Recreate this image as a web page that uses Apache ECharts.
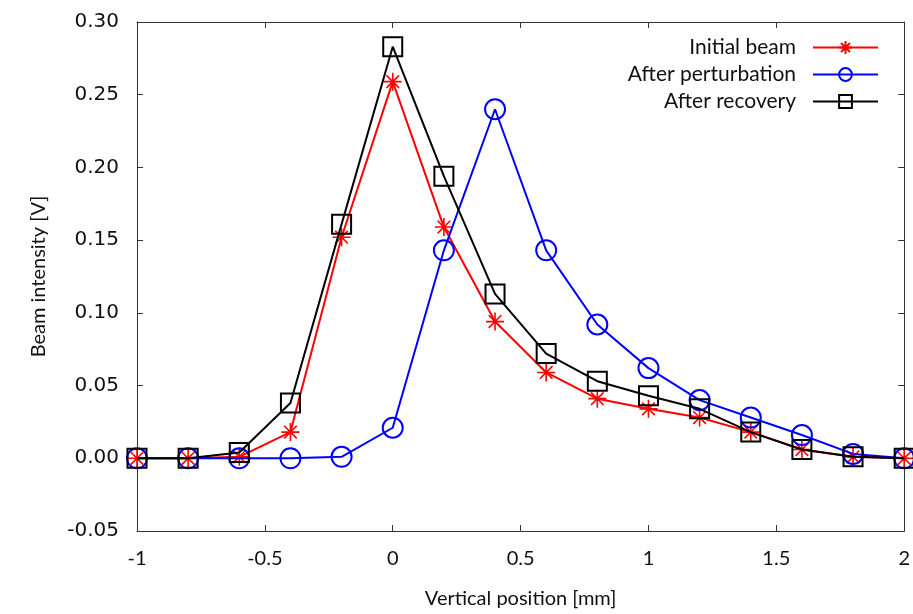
<!DOCTYPE html>
<html><head><meta charset="utf-8">
<script src="https://cdn.jsdelivr.net/npm/echarts@6/dist/echarts.min.js"></script>
<style>html,body{margin:0;padding:0;background:#fff}#c{width:913px;height:614px}</style>
</head><body><div id="c"></div>
<script>
const positions = [-1, -0.8, -0.6, -0.4, -0.2, 0, 0.2, 0.4, 0.6, 0.8, 1.0, 1.2, 1.4, 1.6, 1.8, 2.0];
const initialBeam = [0, 0, 0.001, 0.018, 0.152, 0.259, 0.159, 0.094, 0.059, 0.041, 0.034, 0.028, 0.018, 0.006, 0.001, 0];
const afterPerturbation = [0, 0, 0, 0, 0.001, 0.021, 0.143, 0.240, 0.143, 0.092, 0.062, 0.040, 0.028, 0.016, 0.003, 0];
const afterRecovery = [0, 0, 0.004, 0.038, 0.161, 0.283, 0.194, 0.113, 0.072, 0.053, 0.043, 0.034, 0.018, 0.006, 0.001, 0];
const seriesNames = ['Initial beam', 'After perturbation', 'After recovery'];
const xTicks = {min: -1, max: 2, step: 0.5};
const yTicks = {min: -0.05, max: 0.30, step: 0.05};

const pair = arr => positions.map((x, i) => [x, arr[i]]);
const asterisk = 'path://M0,-1L0,1M-1,0L1,0M-0.7,-0.7L0.7,0.7M-0.7,0.7L0.7,-0.7';
const sansC = 'Lato, "Open Sans", sans-serif';
const axisLineStyle = {color: '#333', width: 1};

const chart = echarts.init(document.getElementById('c'));
chart.setOption({
  animation: false,
  backgroundColor: '#fff',
  grid: {left: 137, right: 7, top: 22, bottom: 82},
  legend: {
    orient: 'vertical', right: 29, top: 32, align: 'right',
    itemWidth: 65, itemHeight: 16, itemGap: 6,
    textStyle: {fontFamily: sansC, fontSize: 21, color: '#111', padding: [0, 12, 0, 0]},
    data: seriesNames
  },
  xAxis: [{
    type: 'value', min: xTicks.min, max: xTicks.max, interval: xTicks.step,
    name: 'Vertical position [mm]', nameLocation: 'middle', nameGap: 58,
    nameTextStyle: {fontFamily: sansC, fontSize: 20, color: '#111'},
    axisLine: {show: true, onZero: false, lineStyle: axisLineStyle},
    axisTick: {show: true, inside: true, length: 6, lineStyle: axisLineStyle},
    axisLabel: {fontFamily: sansC, fontSize: 20, color: '#111', margin: 18},
    splitLine: {show: false}
  }, {
    type: 'value', position: 'top', min: xTicks.min, max: xTicks.max, interval: xTicks.step,
    axisLine: {show: true, onZero: false, lineStyle: axisLineStyle},
    axisTick: {show: true, inside: true, length: 6, lineStyle: axisLineStyle},
    axisLabel: {show: false}, splitLine: {show: false}
  }],
  yAxis: [{
    type: 'value', min: yTicks.min, max: yTicks.max, interval: yTicks.step,
    name: 'Beam intensity [V]', nameLocation: 'middle', nameGap: 88, nameRotate: 90,
    nameTextStyle: {fontFamily: sansC, fontSize: 20, color: '#111'},
    axisLine: {show: true, onZero: false, lineStyle: axisLineStyle},
    axisTick: {show: true, inside: true, length: 6, lineStyle: axisLineStyle},
    axisLabel: {fontFamily: '"DejaVu Sans", sans-serif', fontSize: 20, color: '#111', margin: 18,
      formatter: v => v.toFixed(2)},
    splitLine: {show: false}
  }, {
    type: 'value', position: 'right', min: yTicks.min, max: yTicks.max, interval: yTicks.step,
    axisLine: {show: true, onZero: false, lineStyle: axisLineStyle},
    axisTick: {show: true, inside: true, length: 6, lineStyle: axisLineStyle},
    axisLabel: {show: false}, splitLine: {show: false}
  }],
  series: [{
    name: seriesNames[0], type: 'line', data: pair(initialBeam),
    symbol: asterisk, symbolSize: 18,
    lineStyle: {color: '#ff0000', width: 2},
    itemStyle: {color: 'rgba(0,0,0,0)', borderColor: '#ff0000', borderWidth: 1.6},
    color: '#ff0000', z: 2
  }, {
    name: seriesNames[1], type: 'line', data: pair(afterPerturbation),
    symbol: 'circle', symbolSize: 20,
    lineStyle: {color: '#0000ff', width: 2},
    itemStyle: {color: 'rgba(0,0,0,0)', borderColor: '#0000ff', borderWidth: 2},
    color: '#0000ff', z: 3
  }, {
    name: seriesNames[2], type: 'line', data: pair(afterRecovery),
    symbol: 'rect', symbolSize: 19,
    lineStyle: {color: '#000000', width: 2},
    itemStyle: {color: 'rgba(0,0,0,0)', borderColor: '#000000', borderWidth: 2},
    color: '#000000', z: 4
  }]
});
</script></body></html>
